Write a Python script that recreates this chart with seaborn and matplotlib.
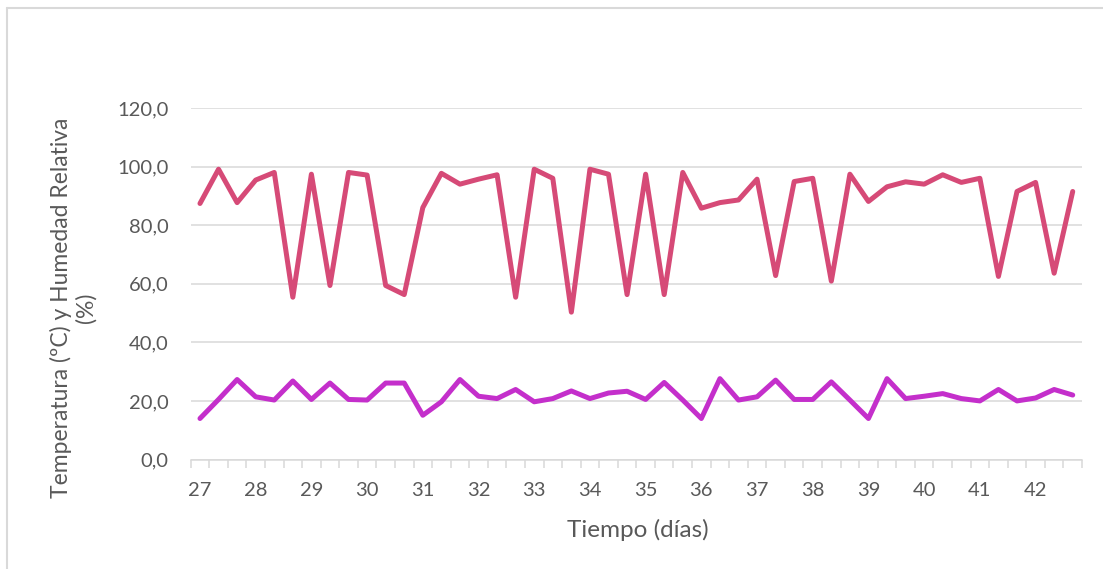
import numpy as np
import pandas as pd
import matplotlib
matplotlib.use("Agg")
import matplotlib.pyplot as plt
import seaborn as sns
from matplotlib.ticker import FixedLocator, FuncFormatter, MultipleLocator
from matplotlib.lines import Line2D

sns.set_theme(style="white")
plt.rcParams['font.family'] = ['Lato', 'DejaVu Sans']

# Three readings per day (every 8 h), days 27 to 42
dias = list(range(27, 43))
muestras_por_dia = 3

humedad = [87.4, 99.1, 87.7, 95.4, 98.0, 55.4, 97.4, 59.4, 98.0, 97.1, 59.4, 56.3,
           86.0, 97.7, 94.0, 95.7, 97.2, 55.4, 99.1, 96.0, 50.3, 99.1, 97.4, 56.3,
           97.4, 56.3, 98.0, 85.8, 87.7, 88.6, 95.7, 62.8, 94.9, 96.0, 60.9, 97.4,
           88.1, 93.1, 94.8, 94.0, 97.2, 94.6, 96.0, 62.5, 91.5, 94.6, 63.6, 91.5]

temperatura = [14.0, 20.5, 27.3, 21.4, 20.3, 26.8, 20.5, 26.1, 20.5, 20.3, 26.1, 26.1,
               15.1, 19.7, 27.3, 21.6, 20.8, 23.9, 19.7, 20.8, 23.4, 20.8, 22.7, 23.3,
               20.5, 26.3, 20.3, 14.0, 27.6, 20.3, 21.4, 27.1, 20.5, 20.5, 26.5, 20.3,
               14.0, 27.6, 20.8, 21.6, 22.5, 20.8, 20.0, 23.9, 20.0, 21.0, 23.9, 22.0]

color_hum = "#D64A77"
color_temp = "#C42FCB"
gris = "#D9D9D9"
texto = "#595959"

n = len(humedad)
tiempo = dias[0] + np.arange(n) / muestras_por_dia
df = pd.DataFrame({"Tiempo": tiempo, "Humedad": humedad, "Temperatura": temperatura})

W, H = 1103, 569
fig = plt.figure(figsize=(W / 100, H / 100), dpi=100)
ax = fig.add_axes([190.7 / W, 1 - 459.5 / H, (1082 - 190.7) / W, (459.5 - 108) / H])

sns.lineplot(data=df, x="Tiempo", y="Humedad", color=color_hum, linewidth=3.6, ax=ax)
sns.lineplot(data=df, x="Tiempo", y="Temperatura", color=color_temp, linewidth=3.6, ax=ax)

paso = 1 / muestras_por_dia
ax.set_xlim(dias[0] - paso / 2, tiempo[-1] + paso / 2)
ax.set_ylim(0, 120)

# y axis: gridlines every 20 with comma decimals
ax.yaxis.set_major_locator(MultipleLocator(20))
ax.yaxis.set_major_formatter(FuncFormatter(lambda v, p: f"{v:.1f}".replace(".", ",")))
ax.yaxis.grid(True, color=gris, linewidth=1.1)
ax.xaxis.grid(False)
ax.tick_params(axis="y", length=0, pad=16, labelsize=14.5, labelcolor=texto)

# x axis: day labels centred on their sample, tick marks between samples
ax.xaxis.set_major_locator(FixedLocator(dias))
ax.set_xticklabels([str(d) for d in dias])
bordes = dias[0] - paso / 2 + np.arange(n + 1) * paso
ax.xaxis.set_minor_locator(FixedLocator(bordes))
ax.tick_params(axis="x", which="major", length=0, pad=16.5, labelsize=14.5, labelcolor=texto)
ax.tick_params(axis="x", which="minor", bottom=True, length=6, width=1.1, color=gris, direction="out")

for lado in ("left", "right", "top"):
    ax.spines[lado].set_visible(False)
ax.spines["bottom"].set_color(gris)
ax.spines["bottom"].set_linewidth(1.1)
ax.set_xlabel("")
ax.set_ylabel("")

# axis titles
fig.text(637.5 / W, 1 - 530 / H, "Tiempo (días)", fontsize=17.5, color=texto,
         ha="center", va="center")
fig.text(73.5 / W, 1 - 308 / H, "Temperatura (ºC) y Humedad Relativa\n(%)", fontsize=16.5,
         color=texto, rotation=90, ha="center", va="center", multialignment="center",
         linespacing=1.15)

# chart frame
fig.add_artist(Line2D([7 / W, 1], [1 - 8 / H, 1 - 8 / H], color=gris,
                      linewidth=1.5, transform=fig.transFigure))
fig.add_artist(Line2D([7 / W, 7 / W], [0, 1 - 8 / H], color=gris,
                      linewidth=1.5, transform=fig.transFigure))

fig.savefig("out.png", dpi=100)
